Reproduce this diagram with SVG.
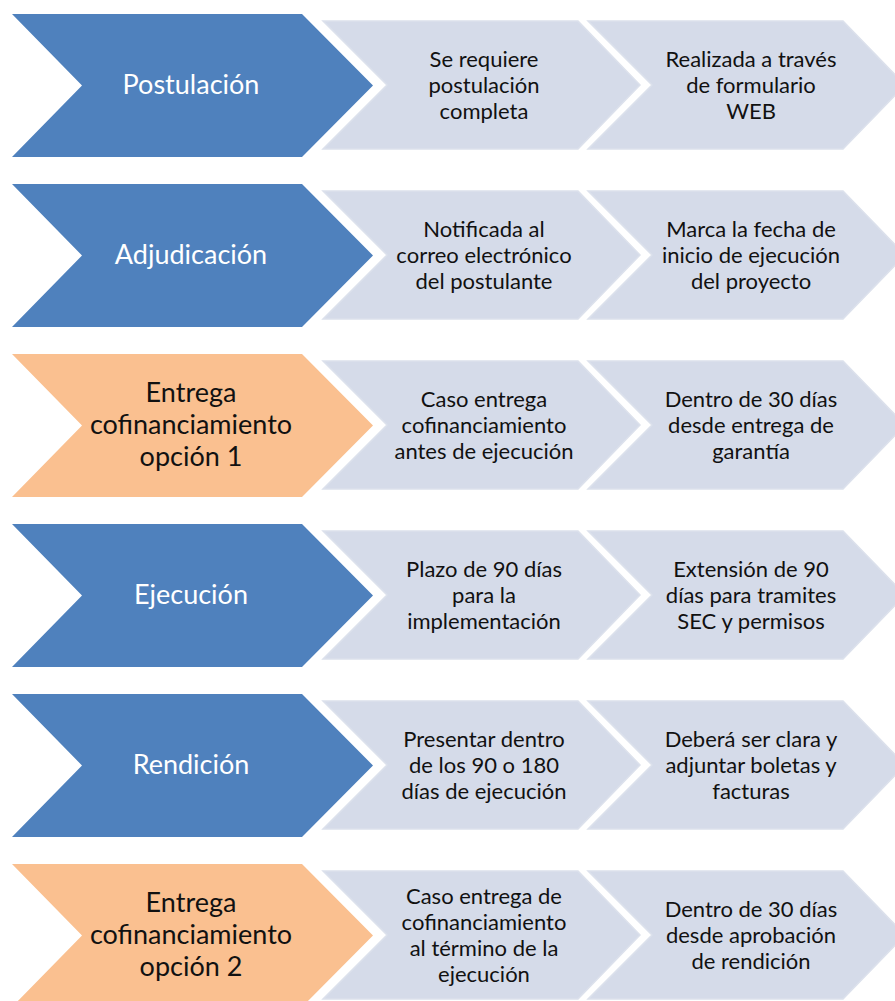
<svg xmlns="http://www.w3.org/2000/svg" xmlns:xlink="http://www.w3.org/1999/xlink" width="895" height="1001" viewBox="0 0 895 1001">
<style>
.main{fill:#4F81BD;}
.orange{fill:#FAC090;}
.light{fill:#D5DBE9;stroke:#DCE1EC;stroke-width:1.5;}
.mt{font-family:Lato,"Liberation Sans",sans-serif;font-size:27px;text-anchor:middle;}
.w{fill:#FFFFFF;}
.k{fill:#111111;}
.lt{font-family:Lato,"Liberation Sans",sans-serif;font-size:22px;text-anchor:middle;fill:#111111;}
</style>
<defs>
<polygon id="bigChev" points="0,0 290,0 361,71.5 290,143 0,143 70,71.5"/>
<polygon id="smallChev" points="0,0 255,0 317,64 255,128 0,128 64,64"/>
</defs>
<rect width="895" height="1001" fill="#FFFFFF"/>

<g id="row1" transform="translate(0,0)">
<g id="postulacion"><use xlink:href="#bigChev" x="12" y="14" class="main"/><text class="mt w" x="191" y="94">Postulación</text></g>
<g id="postulacion-a"><use xlink:href="#smallChev" x="323" y="21" class="light"/><text class="lt"><tspan x="484" y="67">Se requiere</tspan><tspan x="484" y="93">postulación</tspan><tspan x="484" y="119">completa</tspan></text></g>
<g id="postulacion-b"><use xlink:href="#smallChev" x="588" y="21" class="light"/><text class="lt"><tspan x="751" y="67">Realizada a través</tspan><tspan x="751" y="93">de formulario</tspan><tspan x="751" y="119">WEB</tspan></text></g>
</g>

<g id="row2" transform="translate(0,170)">
<g id="adjudicacion"><use xlink:href="#bigChev" x="12" y="14" class="main"/><text class="mt w" x="191" y="94">Adjudicación</text></g>
<g id="adjudicacion-a"><use xlink:href="#smallChev" x="323" y="21" class="light"/><text class="lt"><tspan x="484" y="67">Notificada al</tspan><tspan x="484" y="93">correo electrónico</tspan><tspan x="484" y="119">del postulante</tspan></text></g>
<g id="adjudicacion-b"><use xlink:href="#smallChev" x="588" y="21" class="light"/><text class="lt"><tspan x="751" y="67">Marca la fecha de</tspan><tspan x="751" y="93">inicio de ejecución</tspan><tspan x="751" y="119">del proyecto</tspan></text></g>
</g>

<g id="row3" transform="translate(0,340)">
<g id="cofin1"><use xlink:href="#bigChev" x="12" y="14" class="orange"/><text class="mt k"><tspan x="191" y="62">Entrega</tspan><tspan x="191" y="94">cofinanciamiento</tspan><tspan x="191" y="126">opción 1</tspan></text></g>
<g id="cofin1-a"><use xlink:href="#smallChev" x="323" y="21" class="light"/><text class="lt"><tspan x="484" y="67">Caso entrega</tspan><tspan x="484" y="93">cofinanciamiento</tspan><tspan x="484" y="119">antes de ejecución</tspan></text></g>
<g id="cofin1-b"><use xlink:href="#smallChev" x="588" y="21" class="light"/><text class="lt"><tspan x="751" y="67">Dentro de 30 días</tspan><tspan x="751" y="93">desde entrega de</tspan><tspan x="751" y="119">garantía</tspan></text></g>
</g>

<g id="row4" transform="translate(0,510)">
<g id="ejecucion"><use xlink:href="#bigChev" x="12" y="14" class="main"/><text class="mt w" x="191" y="94">Ejecución</text></g>
<g id="ejecucion-a"><use xlink:href="#smallChev" x="323" y="21" class="light"/><text class="lt"><tspan x="484" y="67">Plazo de 90 días</tspan><tspan x="484" y="93">para la</tspan><tspan x="484" y="119">implementación</tspan></text></g>
<g id="ejecucion-b"><use xlink:href="#smallChev" x="588" y="21" class="light"/><text class="lt"><tspan x="751" y="67">Extensión de 90</tspan><tspan x="751" y="93">días para tramites</tspan><tspan x="751" y="119">SEC y permisos</tspan></text></g>
</g>

<g id="row5" transform="translate(0,680)">
<g id="rendicion"><use xlink:href="#bigChev" x="12" y="14" class="main"/><text class="mt w" x="191" y="94">Rendición</text></g>
<g id="rendicion-a"><use xlink:href="#smallChev" x="323" y="21" class="light"/><text class="lt"><tspan x="484" y="67">Presentar dentro</tspan><tspan x="484" y="93">de los 90 o 180</tspan><tspan x="484" y="119">días de ejecución</tspan></text></g>
<g id="rendicion-b"><use xlink:href="#smallChev" x="588" y="21" class="light"/><text class="lt"><tspan x="751" y="67">Deberá ser clara y</tspan><tspan x="751" y="93">adjuntar boletas y</tspan><tspan x="751" y="119">facturas</tspan></text></g>
</g>

<g id="row6" transform="translate(0,850)">
<g id="cofin2"><use xlink:href="#bigChev" x="12" y="14" class="orange"/><text class="mt k"><tspan x="191" y="62">Entrega</tspan><tspan x="191" y="94">cofinanciamiento</tspan><tspan x="191" y="126">opción 2</tspan></text></g>
<g id="cofin2-a"><use xlink:href="#smallChev" x="323" y="21" class="light"/><text class="lt"><tspan x="484" y="54">Caso entrega de</tspan><tspan x="484" y="80">cofinanciamiento</tspan><tspan x="484" y="106">al término de la</tspan><tspan x="484" y="132">ejecución</tspan></text></g>
<g id="cofin2-b"><use xlink:href="#smallChev" x="588" y="21" class="light"/><text class="lt"><tspan x="751" y="67">Dentro de 30 días</tspan><tspan x="751" y="93">desde aprobación</tspan><tspan x="751" y="119">de rendición</tspan></text></g>
</g>
</svg>
